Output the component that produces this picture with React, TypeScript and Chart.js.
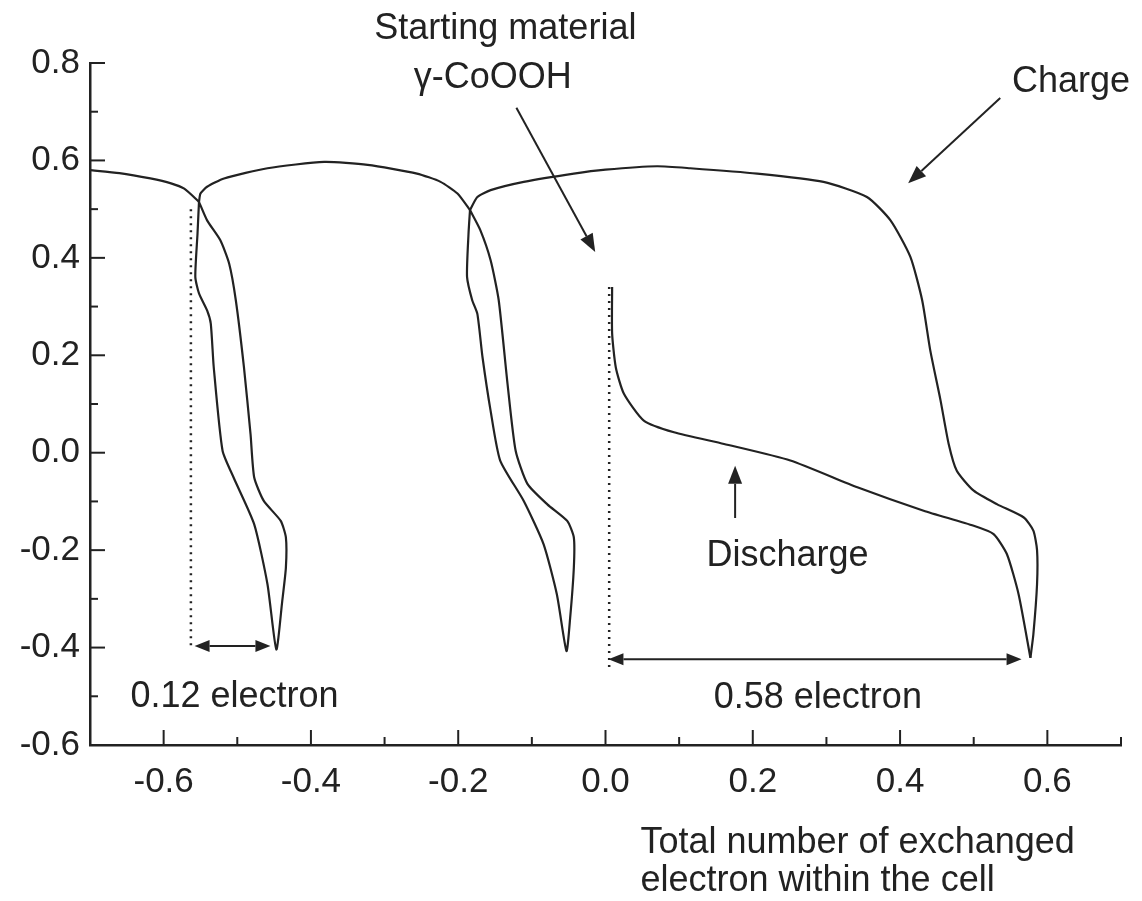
import React, { useEffect, useRef } from 'react';
import { Chart, registerables } from 'chart.js';

Chart.register(...registerables);

const FONT = '"Liberation Sans", Arial, Helvetica, sans-serif';
const INK = '#222222';

// Axis ticks
const xMajorTicks = [-0.6, -0.4, -0.2, 0.0, 0.2, 0.4, 0.6];
const xMinorTicks = [-0.5, -0.3, -0.1, 0.1, 0.3, 0.5, 0.7];
const yMajorTicks = [-0.6, -0.4, -0.2, 0.0, 0.2, 0.4, 0.6, 0.8];
const yMinorTicks = [-0.5, -0.3, -0.1, 0.1, 0.3, 0.5, 0.7];

// Lead-in curve from left edge to first crossing
const leadInX = [-0.700, -0.660, -0.618, -0.590, -0.572, -0.552];
const leadInY = [0.580, 0.574, 0.563, 0.553, 0.542, 0.515];

// First loop (right branch down, left branch back up)
const loop1X = [-0.552, -0.541, -0.523, -0.511, -0.502, -0.491, -0.482, -0.477, -0.464, -0.441, -0.434, -0.434, -0.439, -0.447,
  -0.459, -0.477, -0.505, -0.520, -0.532, -0.536, -0.541, -0.552, -0.557, -0.554, -0.552];
const loop1Y = [0.515, 0.477, 0.436, 0.388, 0.313, 0.176, 0.038, -0.051, -0.099, -0.140, -0.174, -0.236, -0.305, -0.404,
  -0.270, -0.147, -0.051, 0.004, 0.176, 0.265, 0.292, 0.327, 0.361, 0.450, 0.515];

// Arc between the two crossings
const arcX = [-0.552, -0.550, -0.541, -0.518, -0.459, -0.382, -0.323, -0.256, -0.224, -0.201, -0.184];
const arcY = [0.515, 0.532, 0.546, 0.563, 0.584, 0.597, 0.591, 0.573, 0.556, 0.532, 0.498];

// Second loop
const loop2X = [-0.184, -0.170, -0.156, -0.145, -0.133, -0.122, -0.106, -0.079, -0.052, -0.043, -0.043, -0.048, -0.053,
  -0.066, -0.084, -0.111, -0.143, -0.156, -0.167, -0.174, -0.181, -0.188, -0.186, -0.184];
const loop2Y = [0.498, 0.457, 0.395, 0.313, 0.141, 0.004, -0.064, -0.106, -0.140, -0.174, -0.236, -0.339, -0.407,
  -0.291, -0.188, -0.099, -0.016, 0.086, 0.196, 0.285, 0.313, 0.361, 0.450, 0.498];

// Charge curve (plateau and drop to the right tip)
const chargeX = [-0.184, -0.174, -0.156, -0.111, -0.043, 0.000, 0.070, 0.115, 0.206, 0.296, 0.355, 0.387, 0.414, 0.430, 0.441,
  0.455, 0.466, 0.477, 0.500, 0.532, 0.568, 0.581, 0.586, 0.586, 0.581, 0.577];
const chargeY = [0.498, 0.525, 0.539, 0.556, 0.573, 0.581, 0.588, 0.584, 0.573, 0.556, 0.525, 0.477, 0.402, 0.313, 0.210,
  0.107, 0.018, -0.037, -0.078, -0.106, -0.133, -0.160, -0.200, -0.270, -0.373, -0.421];

// Discharge of the starting material
const dischargeX = [0.009, 0.009, 0.014, 0.025, 0.052, 0.093, 0.161, 0.251, 0.342, 0.432, 0.500, 0.527, 0.545, 0.561, 0.577];
const dischargeY = [0.340, 0.245, 0.175, 0.121, 0.066, 0.042, 0.018, -0.016, -0.071, -0.119, -0.150, -0.167, -0.208, -0.291, -0.421];

// Dotted reference lines
const dottedLeftX = [-0.563, -0.563];
const dottedLeftY = [0.50, -0.40];
const dottedRightX = [0.005, 0.005];
const dottedRightY = [0.34, -0.445];

// Text annotations (data coordinates)
const textLabels = [
  { text: 'Starting material', x: -0.136, y: 0.85, align: 'center' },
  { text: 'γ-CoOOH', x: -0.153, y: 0.749, align: 'center' },
  { text: 'Charge', x: 0.552, y: 0.741, align: 'left' },
  { text: 'Discharge', x: 0.137, y: -0.233, align: 'left' },
  { text: '0.12 electron', x: -0.645, y: -0.521, align: 'left' },
  { text: '0.58 electron', x: 0.147, y: -0.525, align: 'left' },
];
const xTitleLines = ['Total number of exchanged', 'electron within the cell'];
const xTitleX = 0.0475;
const xTitleY = [-0.821, -0.899];

// Arrows (data coordinates)
const singleArrows = [
  { x1: -0.121, y1: 0.708, x2: -0.014, y2: 0.412 },
  { x1: 0.536, y1: 0.728, x2: 0.411, y2: 0.553 },
  { x1: 0.176, y1: -0.134, x2: 0.176, y2: -0.027 },
];
const doubleArrows = [
  { x1: -0.558, x2: -0.455, y: -0.397 },
  { x1: 0.004, x2: 0.565, y: -0.424 },
];

const zip = (xs: number[], ys: number[]) => xs.map((x, i) => ({ x, y: ys[i] }));

function arrowHead(ctx: CanvasRenderingContext2D, x1: number, y1: number, x2: number, y2: number, len: number, half: number) {
  const a = Math.atan2(y2 - y1, x2 - x1);
  const bx = x2 - len * Math.cos(a);
  const by = y2 - len * Math.sin(a);
  ctx.beginPath();
  ctx.moveTo(x2, y2);
  ctx.lineTo(bx + half * Math.sin(a), by - half * Math.cos(a));
  ctx.lineTo(bx - half * Math.sin(a), by + half * Math.cos(a));
  ctx.closePath();
  ctx.fill();
  return [bx, by];
}

const decorPlugin = {
  id: 'decor',
  afterDraw(chart: any) {
    const { ctx, scales, chartArea } = chart;
    const xs = scales.x;
    const ys = scales.y;
    const px = (v: number) => xs.getPixelForValue(v);
    const py = (v: number) => ys.getPixelForValue(v);
    ctx.save();
    ctx.strokeStyle = INK;
    ctx.fillStyle = INK;
    ctx.lineWidth = 2;
    ctx.lineCap = 'butt';
    // inward tick marks
    const drawX = (vals: number[], len: number) => {
      vals.forEach((v) => {
        const x = px(v);
        ctx.beginPath();
        ctx.moveTo(x, chartArea.bottom);
        ctx.lineTo(x, chartArea.bottom - len);
        ctx.stroke();
      });
    };
    const drawY = (vals: number[], len: number) => {
      vals.forEach((v) => {
        const y = py(v);
        ctx.beginPath();
        ctx.moveTo(chartArea.left, y);
        ctx.lineTo(chartArea.left + len, y);
        ctx.stroke();
      });
    };
    drawX(xMajorTicks, 15);
    drawX(xMinorTicks, 8);
    drawY(yMajorTicks.filter((v) => v > -0.6), 15);
    drawY(yMinorTicks, 8);

    // arrows
    ctx.lineWidth = 2;
    singleArrows.forEach((a) => {
      const x1 = px(a.x1), y1 = py(a.y1), x2 = px(a.x2), y2 = py(a.y2);
      const [bx, by] = arrowHead(ctx, x1, y1, x2, y2, 18, 7);
      ctx.beginPath();
      ctx.moveTo(x1, y1);
      ctx.lineTo(bx, by);
      ctx.stroke();
    });
    doubleArrows.forEach((a) => {
      const x1 = px(a.x1), x2 = px(a.x2), y = py(a.y);
      const [ex] = arrowHead(ctx, x1, y, x2, y, 15, 6);
      const [sx] = arrowHead(ctx, x2, y, x1, y, 15, 6);
      ctx.beginPath();
      ctx.moveTo(sx, y);
      ctx.lineTo(ex, y);
      ctx.stroke();
    });

    // texts
    ctx.font = `36px ${FONT}`;
    ctx.textBaseline = 'alphabetic';
    textLabels.forEach((t) => {
      ctx.textAlign = t.align;
      ctx.fillText(t.text, px(t.x), py(t.y));
    });
    ctx.textAlign = 'left';
    xTitleLines.forEach((line, i) => {
      ctx.fillText(line, px(xTitleX), py(xTitleY[i]));
    });
    ctx.restore();
  },
};

export default function App() {
  const canvasRef = useRef<HTMLCanvasElement | null>(null);

  useEffect(() => {
    if (!canvasRef.current) return;
    const curveStyle = {
      borderColor: INK,
      borderWidth: 2.2,
      pointRadius: 0,
      tension: 0.2,
      fill: false,
    };
    const dotStyle = {
      borderColor: INK,
      borderWidth: 2.5,
      borderDash: [2, 5],
      pointRadius: 0,
      tension: 0,
      fill: false,
    };
    const chart = new Chart(canvasRef.current, {
      type: 'line',
      data: {
        datasets: [
          { label: 'Lead-in', data: zip(leadInX, leadInY), ...curveStyle },
          { label: 'Loop 1', data: zip(loop1X, loop1Y), ...curveStyle },
          { label: 'Arc', data: zip(arcX, arcY), ...curveStyle },
          { label: 'Loop 2', data: zip(loop2X, loop2Y), ...curveStyle },
          { label: 'Charge', data: zip(chargeX, chargeY), ...curveStyle },
          { label: 'Discharge', data: zip(dischargeX, dischargeY), ...curveStyle },
          { label: '0.12 ref', data: zip(dottedLeftX, dottedLeftY), ...dotStyle },
          { label: '0.58 ref', data: zip(dottedRightX, dottedRightY), ...dotStyle },
        ] as any,
      },
      options: {
        animation: false,
        responsive: true,
        maintainAspectRatio: false,
        events: [],
        layout: { padding: { top: 55, right: 13, left: 0, bottom: 0 } },
        plugins: {
          legend: { display: false },
          tooltip: { enabled: false },
          title: { display: false },
        },
        scales: {
          x: {
            type: 'linear',
            min: -0.7,
            max: 0.7,
            afterBuildTicks: (s: any) => {
              s.ticks = xMajorTicks.map((v) => ({ value: v }));
            },
            afterFit: (s: any) => {
              s.height = 148;
            },
            grid: { display: false, drawTicks: false },
            border: { display: true, color: INK, width: 2.5 },
            ticks: {
              autoSkip: false,
              maxRotation: 0,
              padding: 16,
              color: INK,
              font: { family: FONT, size: 35 },
              callback: (v: any) => Number(v).toFixed(1),
            },
          },
          y: {
            type: 'linear',
            min: -0.6,
            max: 0.8,
            afterBuildTicks: (s: any) => {
              s.ticks = yMajorTicks.map((v) => ({ value: v }));
            },
            afterFit: (s: any) => {
              s.width = 82;
            },
            grid: { display: false, drawTicks: false },
            border: { display: true, color: INK, width: 2.5 },
            ticks: {
              autoSkip: false,
              padding: 10,
              color: INK,
              font: { family: FONT, size: 35 },
              callback: (v: any) => Number(v).toFixed(1),
            },
          },
        },
      } as any,
      plugins: [decorPlugin],
    });
    return () => chart.destroy();
  }, []);

  return (
    <div style={{ width: 1126, height: 885, position: 'relative', background: '#fff' }}>
      <canvas ref={canvasRef} />
    </div>
  );
}
